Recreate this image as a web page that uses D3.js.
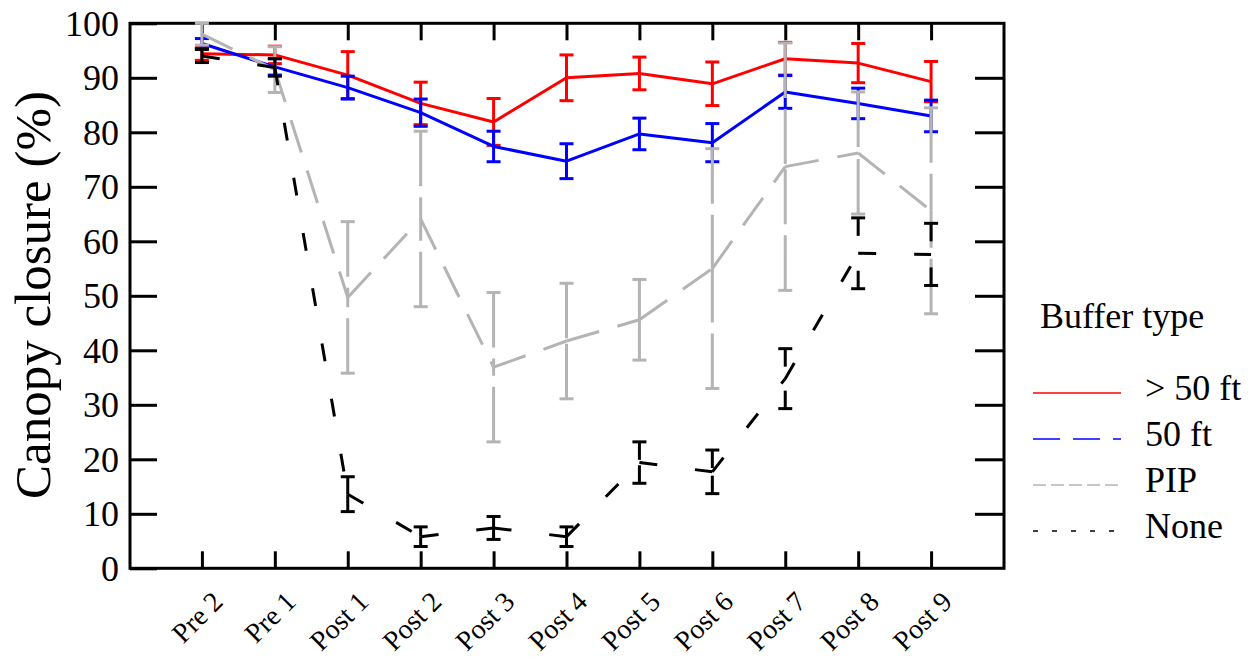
<!DOCTYPE html>
<html>
<head>
<meta charset="utf-8">
<script src="https://cdn.jsdelivr.net/npm/d3@7"></script>
<style>
  html, body { margin: 0; padding: 0; background: #fff; }
  svg { display: block; }
</style>
</head>
<body>
<svg id="chart" width="1255" height="657" font-family="Liberation Serif"></svg>
<script>
// ---- data ----
const categories = ["Pre 2", "Pre 1", "Post 1", "Post 2", "Post 3", "Post 4", "Post 5", "Post 6", "Post 7", "Post 8", "Post 9"];
const yTickValues = [0, 10, 20, 30, 40, 50, 60, 70, 80, 90, 100];
const seriesNames = ["> 50 ft", "50 ft", "PIP", "None"];
const legendTitle = "Buffer type";
const yAxisTitle = "Canopy closure (%)";

const over50Mean = [94.4, 94.2, 90.5, 85.3, 81.9, 90.0, 90.8, 88.9, 93.5, 92.7, 89.3];
const over50Err  = [1.2, 1.6, 4.3, 3.9, 4.3, 4.2, 3.0, 4.0, 3.0, 3.6, 3.7];

const ft50Mean = [96.3, 92.0, 88.2, 83.6, 77.4, 74.7, 79.7, 78.1, 87.4, 85.3, 83.0];
const ft50Err  = [0.9, 1.5, 2.1, 2.5, 2.8, 3.2, 2.9, 3.5, 3.0, 2.8, 2.9];

const pipMean = [98.0, 91.5, 49.7, 64.1, 36.9, 41.7, 45.6, 55.0, 73.7, 76.2, 65.6];
const pipErr  = [2.0, 4.2, 13.9, 16.1, 13.7, 10.6, 7.4, 22.0, 22.7, 11.2, 18.9];

const noneMean = [94.0, 91.9, 13.6, 5.8, 7.4, 5.8, 19.4, 17.7, 34.8, 57.8, 57.6];
const noneErr  = [1.2, 1.6, 3.2, 1.8, 2.1, 1.8, 3.8, 4.0, 5.5, 6.5, 5.7];

// ---- styles ----
const FONT = "Liberation Serif";
const styles = [
  { color: "#ff0000", lineDash: null,    barDash: null,    legendDash: null },
  { color: "#0000ff", lineDash: null,    barDash: null,    legendDash: "27,13" },
  { color: "#b4b4b4", lineDash: "34,19", barDash: "55,11", legendDash: "13,5" },
  { color: "#000000", lineDash: "18,38", barDash: "18,38", legendDash: "5,14" }
];
const series = [
  { name: seriesNames[0], mean: over50Mean, err: over50Err, style: styles[0] },
  { name: seriesNames[1], mean: ft50Mean,   err: ft50Err,   style: styles[1] },
  { name: seriesNames[2], mean: pipMean,    err: pipErr,    style: styles[2] },
  { name: seriesNames[3], mean: noneMean,   err: noneErr,   style: styles[3] }
];

const svg = d3.select("#chart");
const L = 130, R = 1004, T = 23.3, B = 568.3;

const x = d3.scalePoint().domain(categories).range([129, 1004]).padding(1);
const y = d3.scaleLinear().domain([0, 100]).range([B, T]);

// axes
const axisStyle = g => {
  g.attr("font-family", FONT);
  g.select(".domain").remove();
  g.selectAll(".tick line").attr("stroke", "#000").attr("stroke-width", 3);
};

svg.append("g").attr("transform", `translate(${L},0)`)
  .call(d3.axisLeft(y).tickValues(yTickValues).tickSize(-27).tickPadding(11))
  .call(axisStyle)
  .call(g => g.selectAll(".tick text")
      .attr("font-family", FONT)
      .attr("font-size", 36).attr("fill", "#000").attr("dy", "0.33em"));

svg.append("g").attr("transform", `translate(${R},0)`)
  .call(d3.axisRight(y).tickValues(yTickValues.slice(1, -1)).tickSize(-29).tickFormat(""))
  .call(axisStyle);

svg.append("g").attr("transform", `translate(0,${B})`)
  .call(d3.axisBottom(x).tickSize(-17))
  .call(axisStyle)
  .call(g => g.selectAll(".tick text")
      .attr("font-family", FONT)
      .attr("font-size", 28).attr("fill", "#000")
      .attr("x", 0).attr("y", 0).attr("dy", 0)
      .attr("text-anchor", "end")
      .attr("transform", "translate(22,35) rotate(-45)"));

svg.append("g").attr("transform", `translate(0,${T})`)
  .call(d3.axisTop(x).tickSize(-17).tickFormat(""))
  .call(axisStyle);

// frame
svg.append("rect")
  .attr("x", L).attr("y", T).attr("width", R - L).attr("height", B - T)
  .attr("fill", "none").attr("stroke", "#000").attr("stroke-width", 3);

// y axis title
svg.append("text")
  .attr("transform", "translate(50,295) rotate(-90)")
  .attr("text-anchor", "middle")
  .attr("font-family", FONT)
  .attr("font-size", 51)
  .text(yAxisTitle);

// series
const plot = svg.append("g");
series.forEach(s => {
  const g = plot.append("g");
  const pts = categories.map((c, i) => ({ c, m: s.mean[i], e: s.err[i] }));
  // error bars: drawn from each cap toward the mean
  pts.forEach(p => {
    const cx = x(p.c);
    [p.m + p.e, p.m - p.e].forEach(cap => {
      g.append("path")
        .attr("d", `M${cx},${y(cap)}L${cx},${y(p.m)}`)
        .attr("stroke", s.style.color).attr("stroke-width", 3)
        .attr("fill", "none")
        .attr("stroke-dasharray", s.style.barDash);
      g.append("line")
        .attr("x1", cx - 7).attr("x2", cx + 7)
        .attr("y1", y(cap)).attr("y2", y(cap))
        .attr("stroke", s.style.color).attr("stroke-width", 3);
    });
  });
  // line segments, each starting its own dash pattern
  const line = d3.line().x(d => x(d.c)).y(d => y(d.m));
  for (let i = 0; i < pts.length - 1; i++) {
    g.append("path")
      .attr("d", line([pts[i], pts[i + 1]]))
      .attr("stroke", s.style.color).attr("stroke-width", 3)
      .attr("fill", "none")
      .attr("stroke-dasharray", s.style.lineDash);
  }
});

// legend
const lg = svg.append("g").attr("font-family", FONT);
lg.append("text").attr("x", 1040).attr("y", 328).attr("font-size", 36)
  .attr("font-family", FONT).text(legendTitle);
series.forEach((s, i) => {
  const by = 400 + i * 46;
  lg.append("line")
    .attr("x1", 1033).attr("x2", 1121)
    .attr("y1", by - 7).attr("y2", by - 7)
    .attr("stroke", s.style.color).attr("stroke-width", 1.5)
    .attr("stroke-dasharray", s.style.legendDash);
  lg.append("text").attr("x", 1145).attr("y", by).attr("font-size", 36)
    .attr("font-family", FONT).text(s.name);
});
</script>
</body>
</html>
